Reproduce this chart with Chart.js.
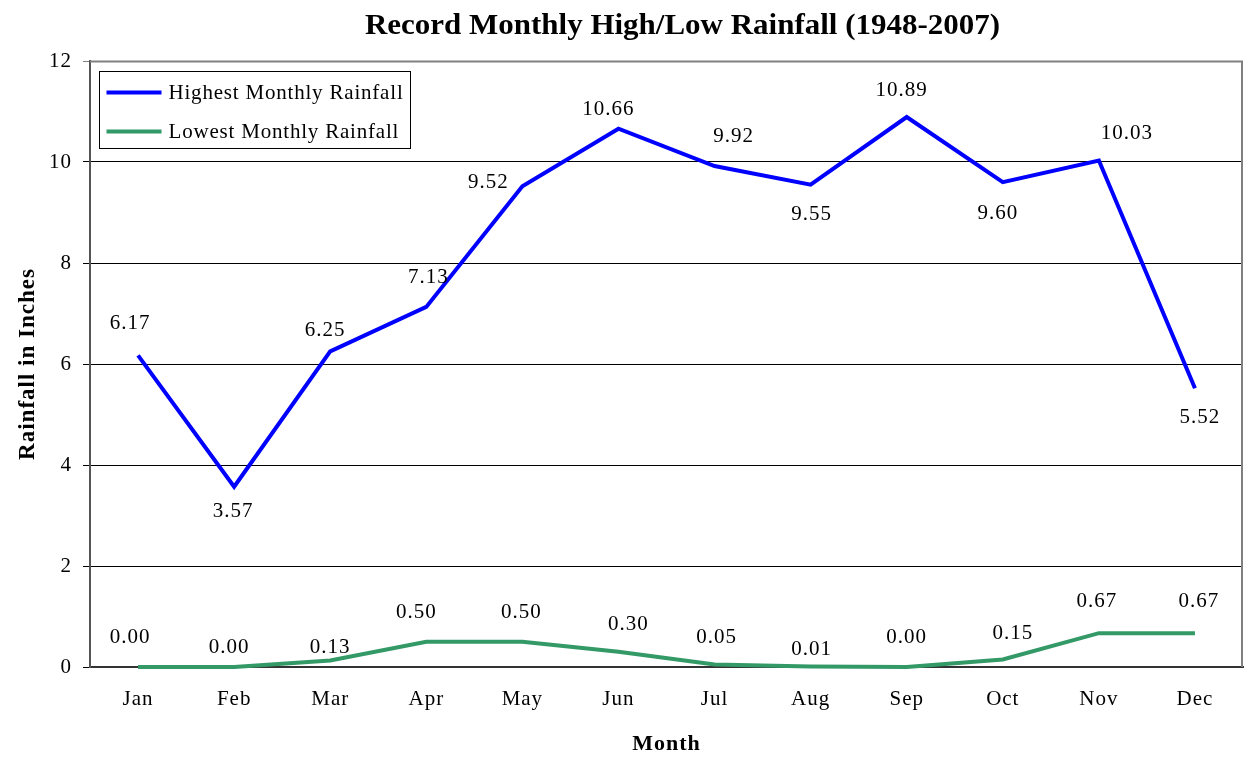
<!DOCTYPE html>
<html><head><meta charset="utf-8">
<script src="https://cdn.jsdelivr.net/npm/chart.js@4"></script>
<style>html,body{margin:0;padding:0;background:#fff}canvas{display:block}</style>
</head><body>
<canvas id="c" width="1244" height="758"></canvas>
<script>
const chartTitle = 'Record Monthly High/Low Rainfall (1948-2007)';
const months = ['Jan','Feb','Mar','Apr','May','Jun','Jul','Aug','Sep','Oct','Nov','Dec'];
const highestRainfall = [6.17, 3.57, 6.25, 7.13, 9.52, 10.66, 9.92, 9.55, 10.89, 9.60, 10.03, 5.52];
const lowestRainfall  = [0.00, 0.00, 0.13, 0.50, 0.50, 0.30, 0.05, 0.01, 0.00, 0.15, 0.67, 0.67];
const yTicks = [0, 2, 4, 6, 8, 10, 12];
const seriesNames = ['Highest Monthly Rainfall', 'Lowest Monthly Rainfall'];

// label placement (style, not data): [dx, dy] from each point
const highLabelOffsets = [[-8,-32],[-1,25],[-5,-21],[2,-29],[-34,-4],[-10,-19],[19,-30],[1,30],[-5,-27],[-5,31],[28,-27],[5,29]];
const lowLabelOffsets  = [[-8,-30],[-5,-20],[0,-13],[-10,-29],[-1,-29],[10,-27],[2,-27],[1,-17],[0,-30],[10,-26],[-2,-32],[4,-32]];

const SERIF = "'Liberation Serif', 'Times New Roman', serif";
const BLUE = '#0000FF', GREEN = '#339966';

const spacingPlugin = {
  id: 'spacing',
  beforeDraw(chart) { chart.ctx.letterSpacing = '1px'; }
};

const framePlugin = {
  id: 'frame',
  beforeDatasetsDraw(chart) {
    const {ctx, chartArea: a} = chart;
    ctx.save();
    ctx.strokeStyle = '#808080';
    ctx.lineWidth = 2;
    ctx.beginPath();
    ctx.moveTo(a.left, a.top + 0.5);
    ctx.lineTo(a.right - 1, a.top + 0.5);
    ctx.lineTo(a.right - 1, a.bottom);
    ctx.stroke();
    ctx.restore();
  }
};

const labelPlugin = {
  id: 'valueLabels',
  afterDatasetsDraw(chart) {
    const ctx = chart.ctx;
    ctx.save();
    ctx.font = '21px ' + SERIF;
    ctx.fillStyle = '#000';
    ctx.textAlign = 'center';
    ctx.textBaseline = 'middle';
    chart.data.datasets.forEach((ds, di) => {
      const meta = chart.getDatasetMeta(di);
      const offs = di === 0 ? highLabelOffsets : lowLabelOffsets;
      meta.data.forEach((pt, i) => {
        const o = offs[i];
        ctx.fillText(ds.data[i].toFixed(2), pt.x + o[0], pt.y + o[1]);
      });
    });
    ctx.restore();
  }
};

const legendPlugin = {
  id: 'boxLegend',
  afterDraw(chart) {
    const ctx = chart.ctx;
    const a = chart.chartArea;
    const x0 = a.left + 9.5, y0 = a.top + 10.5, w = 311, h = 77;
    ctx.save();
    ctx.fillStyle = '#fff';
    ctx.fillRect(x0, y0, w, h);
    ctx.strokeStyle = '#000';
    ctx.lineWidth = 1;
    ctx.strokeRect(x0, y0, w, h);
    ctx.font = '21px ' + SERIF;
    ctx.textAlign = 'left';
    ctx.textBaseline = 'middle';
    ctx.letterSpacing = '0.8px';
    const colors = [BLUE, GREEN];
    seriesNames.forEach((name, i) => {
      const y = y0 + 21 + i * 39;
      ctx.strokeStyle = colors[i];
      ctx.lineWidth = 4;
      ctx.beginPath();
      ctx.moveTo(x0 + 7, y);
      ctx.lineTo(x0 + 62, y);
      ctx.stroke();
      ctx.fillStyle = '#000';
      ctx.fillText(name, x0 + 69, y + 1);
    });
    ctx.restore();
  }
};

const titlePlugin = {
  id: 'fitTitle',
  afterDraw(chart) {
    const ctx = chart.ctx;
    ctx.save();
    ctx.letterSpacing = '0px';
    ctx.font = 'bold 30px ' + SERIF;
    ctx.fillStyle = '#000';
    ctx.textAlign = 'left';
    ctx.textBaseline = 'middle';
    const target = 635;
    const mw = ctx.measureText(chartTitle).width;
    ctx.translate(365, 26);
    ctx.scale(target / mw, 1);
    ctx.fillText(chartTitle, 0, 0);
    ctx.restore();
  }
};

new Chart(document.getElementById('c'), {
  type: 'line',
  data: {
    labels: months,
    datasets: [
      { label: seriesNames[0], data: highestRainfall, borderColor: BLUE, backgroundColor: BLUE,
        borderWidth: 4, pointRadius: 0, tension: 0, clip: false, fill: false },
      { label: seriesNames[1], data: lowestRainfall, borderColor: GREEN, backgroundColor: GREEN,
        borderWidth: 4, pointRadius: 0, tension: 0, clip: false, fill: false }
    ]
  },
  options: {
    responsive: false,
    devicePixelRatio: 1,
    animation: false,
    layout: { padding: { top: 61, right: 1, left: 0, bottom: 0 } },
    plugins: { legend: { display: false }, title: { display: false }, tooltip: { enabled: false } },
    scales: {
      x: {
        offset: true,
        grid: { display: false, drawTicks: false, offset: true },
        border: { display: true, color: '#333', width: 2 },
        ticks: { color: '#000', font: { family: SERIF, size: 21 }, padding: 20, maxRotation: 0 },
        title: { display: true, text: 'Month', color: '#000', font: { family: SERIF, size: 22, weight: 'bold' }, padding: { top: 0, bottom: 0 } },
        afterFit(s) { s.height = 91; }
      },
      y: {
        min: yTicks[0], max: yTicks[yTicks.length - 1],
        afterBuildTicks(s) { s.ticks = yTicks.map(v => ({ value: v })); },
        grid: {
          color: c => (c.tick && c.tick.value === yTicks[yTicks.length - 1]) ? '#808080' : '#000',
          lineWidth: 1, drawTicks: true, tickLength: 7
        },
        border: { display: true, color: '#555', width: 2 },
        ticks: { color: '#000', font: { family: SERIF, size: 21 }, padding: 11 },
        title: { display: true, text: 'Rainfall in Inches', color: '#000', font: { family: SERIF, size: 23, weight: 'bold' }, padding: { top: 14, bottom: 0 } },
        afterFit(s) { s.width = 90; }
      }
    }
  },
  plugins: [spacingPlugin, framePlugin, labelPlugin, legendPlugin, titlePlugin]
});
</script>
</body></html>
